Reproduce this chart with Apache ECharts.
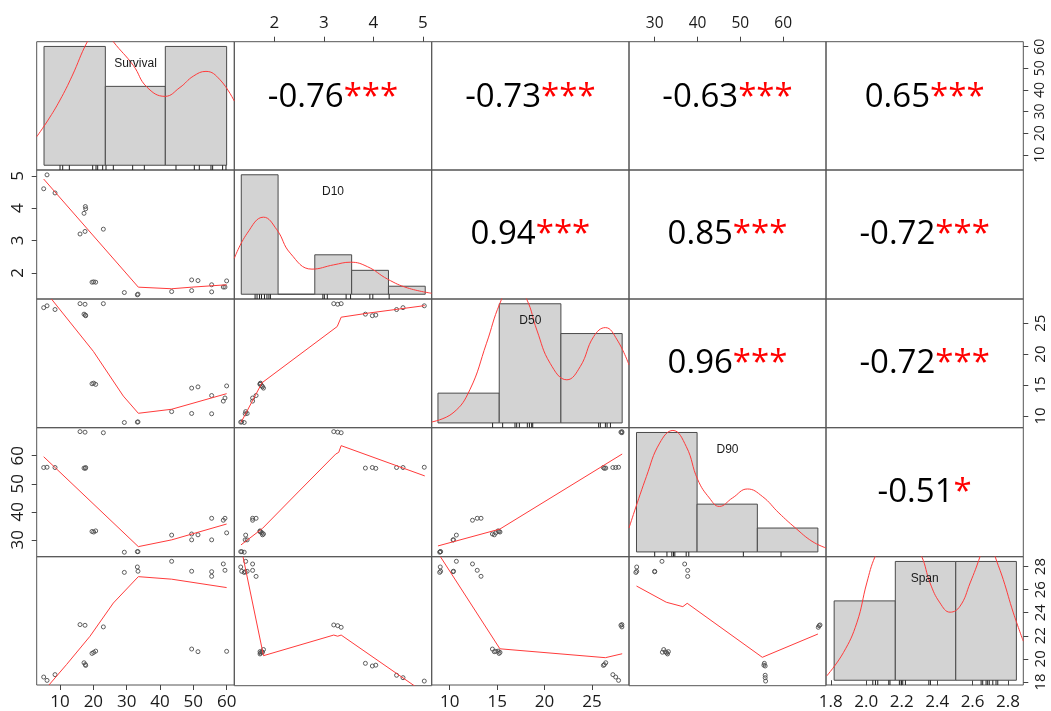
<!DOCTYPE html>
<html><head><meta charset="utf-8">
<script src="https://cdn.jsdelivr.net/npm/echarts@6/dist/echarts.min.js"></script>
<style>html,body{margin:0;padding:0;background:#fff}#c{width:1051px;height:711px}</style>
</head><body><div id="c"></div>
<script>
// ---------- DATA ----------
const varNames = ['Survival', 'D10', 'D50', 'D90', 'Span'];
const survival = [5.1, 6.1, 8.5, 16.0, 17.5, 17.2, 17.7, 17.6, 23.0, 19.6, 20.1, 20.7, 29.3, 33.2, 33.4, 43.5, 49.5, 51.4, 49.5, 55.5, 55.5, 59.0, 59.5, 60.0];
const d10 = [4.60, 5.03, 4.47, 3.20, 3.28, 3.84, 3.98, 4.05, 3.35, 1.71, 1.72, 1.71, 1.39, 1.32, 1.34, 1.42, 1.78, 1.76, 1.45, 1.63, 1.41, 1.56, 1.56, 1.75];
const d50 = [27.5, 27.8, 27.2, 28.15, 28.05, 26.45, 26.2, 26.3, 28.15, 15.2, 15.3, 15.1, 8.94, 9.0, 9.04, 10.7, 14.5, 14.7, 10.4, 13.3, 10.35, 12.4, 12.9, 14.85];
const d90 = [55.8, 55.9, 55.8, 68.6, 68.4, 55.6, 55.8, 55.5, 68.2, 33.0, 32.8, 33.2, 25.6, 25.8, 25.8, 31.7, 32.1, 31.8, 30.0, 37.7, 30.0, 37.0, 37.7, 32.5];
const span = [1.842, 1.813, 1.863, 2.297, 2.291, 1.966, 1.943, 1.95, 2.277, 2.047, 2.056, 2.067, 2.75, 2.797, 2.76, 2.846, 2.085, 2.062, 2.76, 2.716, 2.756, 2.823, 2.768, 2.065];

// correlation panels (upper triangle, row by row)
const corrText = ['-0.76', '-0.73', '-0.63', '0.65', '0.94', '0.85', '-0.72', '0.96', '-0.72', '-0.51'];
const corrStars = ['***', '***', '***', '***', '***', '***', '***', '***', '***', '*'];

// histograms: bin edges and relative bar heights
const histSurvivalEdges = [5.2, 23.6, 41.6, 60.0];
const histSurvivalHeights = [1, 0.664, 1];
const histD10Edges = [1.331, 2.075, 2.817, 3.562, 4.306, 5.049];
const histD10Heights = [1, 0, 0.33, 0.2, 0.067];
const histD50Edges = [8.76, 15.22, 21.72, 28.18];
const histD50Heights = [0.25, 1, 0.75];
const histD90Edges = [25.75, 39.9, 53.97, 68.1];
const histD90Heights = [1, 0.4, 0.2];
const histSpanEdges = [1.819, 2.164, 2.505, 2.847];
const histSpanHeights = [0.668, 1, 1];

// density curves (relative height)
const densSurvival = [[3.0,0.24],[6.4,0.38],[10,0.549],[13.6,0.75],[18.2,1.04],[22,1.2],[26,1.04],[32,0.84],[36,0.66],[41.5,0.58],[46,0.655],[50,0.75],[53.8,0.79],[58,0.72],[62.3,0.54]];
const densD10 = [[1.19,0.30],[1.45,0.51],[1.78,0.645],[2.05,0.54],[2.32,0.344],[2.76,0.21],[3.2,0.246],[3.54,0.268],[3.88,0.231],[4.29,0.126],[4.69,0.053],[5.18,0.008]];
const densD50 = [[8.1,0.008],[10.35,0.084],[12.12,0.278],[13.88,0.669],[15.29,1.003],[16.7,1.2],[18.12,1.037],[19.18,0.78],[20.59,0.50],[22.35,0.362],[23.76,0.473],[25.17,0.724],[26.41,0.80],[27.65,0.697],[28.9,0.487]];
const densD90 = [[24.0,0.20],[28.07,0.632],[31.16,0.911],[34.25,1.017],[37.36,0.883],[40.05,0.605],[42.76,0.452],[45.08,0.381],[48.17,0.452],[51.65,0.527],[55.13,0.465],[59.0,0.326],[62.88,0.20],[66.73,0.089],[70.0,0.033]];
const densSpan = [[1.777,0.036],[1.871,0.232],[1.947,0.484],[2.003,0.819],[2.05,1.042],[2.18,1.45],[2.313,1.042],[2.36,0.819],[2.416,0.651],[2.473,0.573],[2.529,0.623],[2.586,0.819],[2.642,1.042],[2.684,1.25],[2.727,1.042],[2.773,0.847],[2.83,0.567],[2.886,0.329]];

// rug marks under histograms
const rugSurvival = [10.0, 10.8, 12.8, 19.8, 20.8, 21.3, 22.8, 23.8, 26.0, 31.8, 35.3, 44.8, 50.3, 51.8, 55.3, 55.8, 58.8, 59.8];
const rugD10 = [1.61, 1.65, 1.70, 1.74, 1.80, 1.85, 1.89, 1.92, 2.98, 3.01, 3.07, 3.45, 3.54, 3.93, 3.99, 4.32];
const rugD50 = [14.52, 15.58, 16.88, 17.06, 17.34, 18.18, 18.4, 18.64, 18.75, 25.7, 25.88, 26.41, 26.59, 26.94];
const rugD90 = [30.0, 32.86, 34.0, 34.4, 34.7, 37.35, 37.96, 50.7, 59.5];
const rugSpan = [2.037, 2.052, 2.065, 2.127, 2.134, 2.187, 2.197, 2.206, 2.221, 2.353, 2.362, 2.648, 2.657, 2.676, 2.685, 2.694, 2.714, 2.732, 2.742];

// smoother lines in scatter panels [x, y]
const smoothSurvD10 = [[5.1,4.90],[33.5,1.556],[43.5,1.507],[49.5,1.556],[60.0,1.63]];
const smoothSurvD50 = [[5.1,30.46],[20.0,20.44],[29.0,13.21],[33.5,10.43],[43.5,11.08],[60.0,13.6]];
const smoothSurvD90 = [[5.1,59.64],[33.5,27.59],[43.5,30.0],[60.0,35.66]];
const smoothSurvSpan = [[5.1,1.72],[12.0,1.952],[19.0,2.196],[26.0,2.484],[33.5,2.713],[43.5,2.691],[60.0,2.618]];
const smoothD10D50 = [[1.325,8.94],[1.75,15.36],[3.27,24.45],[3.35,25.96],[3.88,26.6],[5.04,27.83]];
const smoothD10D90 = [[1.325,28.2],[1.76,34.1],[2.5,47.4],[3.24,60.6],[3.3,61.2],[3.35,63.6],[5.04,52.8]];
const smoothD10Span = [[1.325,2.97],[1.78,2.032],[3.2,2.21],[3.28,2.2],[3.35,2.21],[5.04,1.71]];
const smoothD50D90 = [[8.76,27.84],[15.29,33.86],[28.18,60.61]];
const smoothD50Span = [[8.76,2.919],[15.29,2.087],[26.41,2.01],[28.18,2.044]];
const smoothD90Span = [[25.75,2.633],[32.71,2.493],[36.57,2.455],[37.59,2.484],[55.13,2.018],[68.12,2.219]];

// tick labels
const survivalTicks = [10, 20, 30, 40, 50, 60];
const d10Ticks = [2, 3, 4, 5];
const d50Ticks = [10, 15, 20, 25];
const d90Ticks = [30, 40, 50, 60];
const spanTicks = [1.8, 2.0, 2.2, 2.4, 2.6, 2.8];

// ---------- LAYOUT / STYLE ----------
const colEdges = [36.7, 234.3, 431.7, 629, 826, 1023.3];
const rowEdges = [41.7, 170, 299, 427.7, 556.7, 685.7];
const axisRanges = [[3.0, 62.3], [1.19, 5.18], [8.1, 28.9], [24.0, 70.0], [1.773, 2.886]];
const histRange = [-0.04, 1.04];
const RED = '#ff3b3b';
const BORDER = '#555';
const FONT = 'Open Sans';

const obs = [survival, d10, d50, d90, span];
const ticks = [survivalTicks, d10Ticks, d50Ticks, d90Ticks, spanTicks];
const hists = [[histSurvivalEdges, histSurvivalHeights], [histD10Edges, histD10Heights], [histD50Edges, histD50Heights], [histD90Edges, histD90Heights], [histSpanEdges, histSpanHeights]];
const dens = [densSurvival, densD10, densD50, densD90, densSpan];
const rugs = [rugSurvival, rugD10, rugD50, rugD90, rugSpan];
const smooth = {
  '1,0': smoothSurvD10, '2,0': smoothSurvD50, '3,0': smoothSurvD90, '4,0': smoothSurvSpan,
  '2,1': smoothD10D50, '3,1': smoothD10D90, '4,1': smoothD10Span,
  '3,2': smoothD50D90, '4,2': smoothD50Span, '4,3': smoothD90Span
};
const fmt = (i, compact) => (v) => i === 4 ? (compact ? v.toFixed(1).replace('.', '') : v.toFixed(1)) : String(v);

const grids = [], xAxes = [], yAxes = [], series = [], graphics = [];

function axisCommon(show, vi, fontSize, rotate, margin, compact) {
  return {
    axisLine: { show: false },
    splitLine: { show: false },
    axisPointer: { show: false },
    axisTick: { show: show, inside: false, length: 5, lineStyle: { color: '#444', width: 1 }, customValues: ticks[vi] },
    axisLabel: { show: show, customValues: ticks[vi], formatter: fmt(vi, compact), fontSize: fontSize, fontFamily: FONT, color: '#1a1a1a', rotate: rotate, margin: margin }
  };
}

const topFont = [0, 17, 0, 15.5, 0];
const rightFont = [14, 0, 15, 0, 16];

// custom renderer for smoother / density polylines
function polyRender(params, api) {
  if (params.dataIndex !== 0) return null;
  const pts = [];
  for (let i = 0; i < params.dataInsideLength; i++) {
    pts.push(api.coord([api.value(0, i), api.value(1, i)]));
  }
  return { type: 'polyline', shape: { points: pts }, style: { stroke: RED, lineWidth: 1, fill: null } };
}

for (let r = 0; r < 5; r++) {
  for (let c = 0; c < 5; c++) {
    const g = r * 5 + c;
    grids.push({
      left: colEdges[c], top: rowEdges[r],
      width: colEdges[c + 1] - colEdges[c], height: rowEdges[r + 1] - rowEdges[r],
      show: true, borderColor: BORDER, borderWidth: 1, backgroundColor: 'transparent'
    });
    const showTop = r === 0 && (c === 1 || c === 3);
    const showBottom = r === 4 && (c === 0 || c === 2 || c === 4);
    xAxes.push(Object.assign({
      gridIndex: g, type: 'value', min: axisRanges[c][0], max: axisRanges[c][1],
      position: r === 0 ? 'top' : 'bottom'
    }, axisCommon(showTop || showBottom, c, showTop ? topFont[c] : 17, 0, showTop ? 10 : 9, false)));
    const diag = r === c;
    const showLeft = c === 0 && (r === 1 || r === 3);
    const showRight = c === 4 && (r === 0 || r === 2);
    yAxes.push(Object.assign({
      gridIndex: g, type: 'value',
      min: diag ? histRange[0] : axisRanges[r][0], max: diag ? histRange[1] : axisRanges[r][1],
      position: c === 4 && !diag ? 'right' : 'left'
    }, axisCommon(showLeft || showRight, r, showLeft ? 17 : rightFont[r], 90, 10, false)));

    const cx = (colEdges[c] + colEdges[c + 1]) / 2;
    if (diag) {
      const [edges, hts] = hists[r];
      series.push({
        type: 'custom', xAxisIndex: g, yAxisIndex: g, clip: true, silent: true,
        data: hts.map((h, k) => [edges[k], edges[k + 1], h]),
        encode: { x: [0, 1], y: 2 },
        renderItem: function (params, api) {
          const p0 = api.coord([api.value(0), api.value(2)]);
          const p1 = api.coord([api.value(1), 0]);
          return { type: 'rect', shape: { x: p0[0], y: p0[1], width: p1[0] - p0[0], height: p1[1] - p0[1] },
                   style: { fill: '#d3d3d3', stroke: '#4a4a4a', lineWidth: 1 } };
        }
      });
      series.push({
        type: 'custom', xAxisIndex: g, yAxisIndex: g, clip: true, silent: true,
        data: rugs[r].map(v => [v, 0]),
        encode: { x: 0, y: 1 },
        renderItem: function (params, api) {
          const p = api.coord([api.value(0), 0]);
          const q = api.coord([api.value(0), histRange[0]]);
          return { type: 'line', shape: { x1: p[0], y1: p[1], x2: p[0], y2: q[1] }, style: { stroke: '#222', lineWidth: 1 } };
        }
      });
      series.push({
        type: 'line', xAxisIndex: g, yAxisIndex: g, data: dens[r], smooth: 0.45, symbol: 'none',
        clip: true, silent: true, color: RED, itemStyle: { color: RED },
        lineStyle: { color: RED, width: 1 }, emphasis: { disabled: true }, z: 3
      });
      graphics.push({
        type: 'text', x: cx, y: rowEdges[r] + 22, z: 100,
        style: { text: varNames[r], fontSize: 12, fontFamily: 'Liberation Sans', fill: '#1a1a1a', textAlign: 'center', textVerticalAlign: 'middle' }
      });
    } else if (r > c) {
      series.push({
        type: 'scatter', xAxisIndex: g, yAxisIndex: g, silent: true, z: 4,
        data: obs[c].map((v, k) => [v, obs[r][k]]),
        symbol: 'circle', symbolSize: 4,
        itemStyle: { color: 'rgba(255,255,255,0)', borderColor: '#4d4d4d', borderWidth: 0.9, opacity: 1 }
      });
      series.push({
        type: 'custom', xAxisIndex: g, yAxisIndex: g, data: smooth[r + ',' + c],
        encode: { x: 0, y: 1 }, clip: true, silent: true, z: 5,
        renderItem: polyRender
      });
    }
  }
}
// right-side Span axis on the last diagonal panel
yAxes.push(Object.assign({
  gridIndex: 24, type: 'value', min: axisRanges[4][0], max: axisRanges[4][1], position: 'right'
}, axisCommon(true, 4, 15, 90, 10, true)));

// correlation texts
let k = 0;
for (let r = 0; r < 5; r++) {
  for (let c = r + 1; c < 5; c++) {
    const cx = (colEdges[c] + colEdges[c + 1]) / 2;
    const cy = (rowEdges[r] + rowEdges[r + 1]) / 2 + (r === 0 ? -8 : 0);
    graphics.push({
      type: 'text', x: cx, y: cy, z: 100,
      style: {
        text: '{v|' + corrText[k] + '}{s|' + corrStars[k] + '}',
        textAlign: 'center', textVerticalAlign: 'middle',
        rich: {
          v: { fontSize: 33, fontFamily: FONT, fill: '#000' },
          s: { fontSize: 33, fontFamily: FONT, fill: '#ff0000' }
        }
      }
    });
    k++;
  }
}

const chart = echarts.init(document.getElementById('c'), null, { renderer: 'canvas' });
chart.setOption({
  animation: false,
  backgroundColor: '#fff',
  grid: grids, xAxis: xAxes, yAxis: yAxes, series: series, graphic: graphics
});
</script></body></html>
